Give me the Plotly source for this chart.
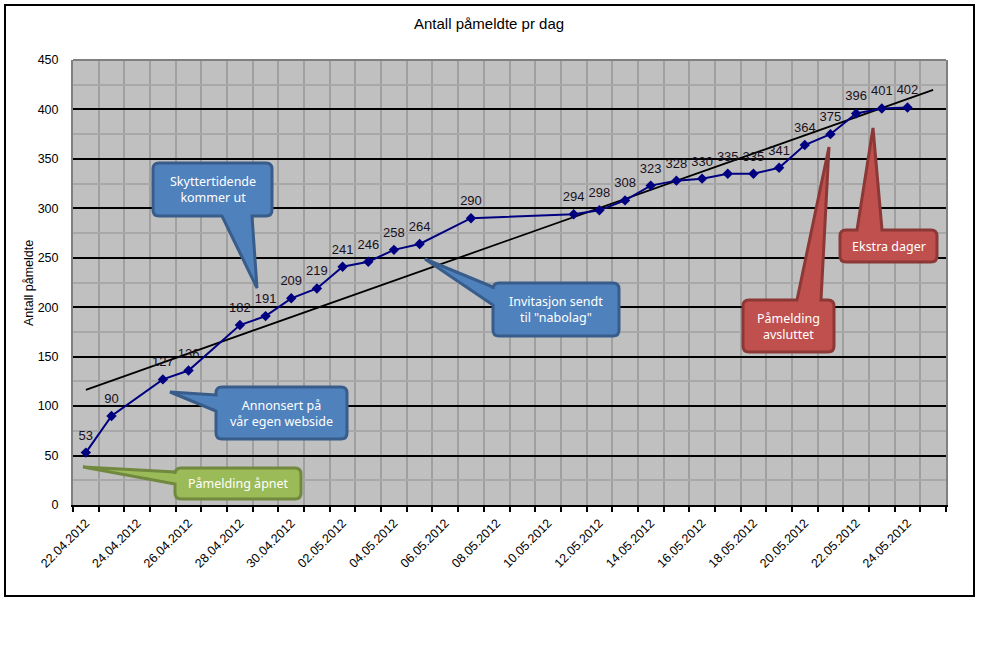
import numpy as np
import pandas as pd
import plotly.graph_objects as go

# ---------------- data ----------------
dates = ["22.04.2012", "23.04.2012", "25.04.2012", "26.04.2012", "28.04.2012",
         "29.04.2012", "30.04.2012", "01.05.2012", "02.05.2012", "03.05.2012",
         "04.05.2012", "05.05.2012", "07.05.2012", "11.05.2012", "12.05.2012",
         "13.05.2012", "14.05.2012", "15.05.2012", "16.05.2012", "17.05.2012",
         "18.05.2012", "19.05.2012", "20.05.2012", "21.05.2012", "22.05.2012",
         "23.05.2012", "24.05.2012"]
values = [53, 90, 127, 136, 182, 191, 209, 219, 241, 246, 258, 264, 290, 294,
          298, 308, 323, 328, 330, 335, 335, 341, 364, 375, 396, 401, 402]
axis_start = "22.04.2012"
axis_end = "25.05.2012"
tick_labels = ["22.04.2012", "24.04.2012", "26.04.2012", "28.04.2012",
               "30.04.2012", "02.05.2012", "04.05.2012", "06.05.2012",
               "08.05.2012", "10.05.2012", "12.05.2012", "14.05.2012",
               "16.05.2012", "18.05.2012", "20.05.2012", "22.05.2012",
               "24.05.2012"]
callouts = [
    ("Skyttertidende<br>kommer ut", "blue"),
    ("Annonsert på<br>vår egen webside", "blue"),
    ("Påmelding åpnet", "green"),
    ("Invitasjon sendt<br>til \"nabolag\"", "blue"),
    ("Påmelding<br>avsluttet", "red"),
    ("Ekstra dager", "red"),
]

# ---------------- derived ----------------
fmt = "%d.%m.%Y"
t0 = pd.to_datetime(axis_start, format=fmt)
day_idx = np.array([(pd.to_datetime(d, format=fmt) - t0).days for d in dates])
last_idx = (pd.to_datetime(axis_end, format=fmt) - t0).days
tick_idx = [(pd.to_datetime(d, format=fmt) - t0).days for d in tick_labels]

slope, intercept = np.polyfit(day_idx, values, 1)
trend_x = np.array([day_idx[0], last_idx])
trend_y = slope * trend_x + intercept

# ---------------- layout geometry ----------------
W, H = 987, 648
ML, MR, MT, MB = 73, 41, 60, 143
PW, PH = W - ML - MR, H - MT - MB
FONT = "Liberation Sans, Arial, sans-serif"


def px(x, y):
    return (x - ML) / PW, (H - MB - y) / PH


def P(x, y):
    a, b = px(x, y)
    return f"{a:.5f},{b:.5f}"


def callout_path(x0, y0, x1, y1, edge, b1, b2, tip, r=6):
    tx, ty = tip
    s = f"M {P(x0 + r, y0)} "
    if edge == "top":
        s += f"L {P(b1, y0)} L {P(tx, ty)} L {P(b2, y0)} "
    s += f"L {P(x1 - r, y0)} Q {P(x1, y0)} {P(x1, y0 + r)} "
    s += f"L {P(x1, y1 - r)} Q {P(x1, y1)} {P(x1 - r, y1)} "
    if edge == "bottom":
        s += f"L {P(b2, y1)} L {P(tx, ty)} L {P(b1, y1)} "
    s += f"L {P(x0 + r, y1)} Q {P(x0, y1)} {P(x0, y1 - r)} "
    if edge == "left":
        s += f"L {P(x0, b2)} L {P(tx, ty)} L {P(x0, b1)} "
    s += f"L {P(x0, y0 + r)} Q {P(x0, y0)} {P(x0 + r, y0)} Z"
    return s


styles = {
    "blue": ("#4F81BD", "#385D8A"),
    "green": ("#9BBB59", "#71893F"),
    "red": ("#C0504D", "#8C3836"),
}
# box (x0, y0, x1, y1), tail edge, tail base, tip  -- pixel layout
geoms = [
    ((153, 163, 272, 216), "bottom", 222, 252, (257, 288)),
    ((216, 387, 347, 439), "left", 395, 411, (170, 392)),
    ((175, 468, 301, 499), "left", 472, 484, (83, 467)),
    ((493, 283, 619, 336), "left", 287, 305, (425, 259)),
    ((743, 300, 834, 352), "top", 797, 821, (829, 147)),
    ((840, 230, 937, 262), "top", 857, 882, (873, 128)),
]

fig = go.Figure()

fig.add_trace(go.Scatter(
    x=trend_x, y=trend_y, mode="lines",
    line=dict(color="black", width=1.8), hoverinfo="skip", showlegend=False))

fig.add_trace(go.Scatter(
    x=day_idx, y=values, mode="lines+markers",
    line=dict(color="#000080", width=2),
    marker=dict(symbol="diamond", size=8, color="#000080"),
    showlegend=False))

# data labels (offset above the points)
fig.add_trace(go.Scatter(
    x=day_idx, y=values, mode="markers+text",
    marker=dict(size=14, opacity=0),
    text=[str(v) for v in values], textposition="top center",
    textfont=dict(family=FONT, size=13, color="#1a1020"),
    hoverinfo="skip", showlegend=False))

shapes = []
annotations = []
for (text, col), (box, edge, b1, b2, tip) in zip(callouts, geoms):
    fill, border = styles[col]
    x0, y0, x1, y1 = box
    shapes.append(dict(type="path", xref="paper", yref="paper",
                       path=callout_path(x0, y0, x1, y1, edge, b1, b2, tip),
                       fillcolor=fill, line=dict(color=border, width=3),
                       layer="above"))
    cx, cy = px((x0 + x1) / 2, (y0 + y1) / 2)
    annotations.append(dict(xref="paper", yref="paper", x=cx, y=cy,
                            text=text, showarrow=False,
                            font=dict(family="Noto Sans, sans-serif", size=12.5,
                                      color="white"),
                            xanchor="center", yanchor="middle", align="center"))

# top border of plot area
shapes.append(dict(type="line", xref="paper", yref="paper", x0=0, x1=1, y0=1, y1=1,
                   line=dict(color="#808080", width=2), layer="above"))
# outer chart border
bx0, by0 = px(5, 5)
bx1, by1 = px(974, 596)
shapes.append(dict(type="rect", xref="paper", yref="paper",
                   x0=bx0, y0=by1, x1=bx1, y1=by0,
                   line=dict(color="black", width=2), fillcolor="rgba(0,0,0,0)",
                   layer="above"))

tx_, ty_ = px(489, 24)
annotations.append(dict(xref="paper", yref="paper", x=tx_, y=ty_,
                        text="Antall påmeldte pr dag", showarrow=False,
                        font=dict(family=FONT, size=15, color="black"),
                        xanchor="center", yanchor="middle"))
ax_, ay_ = px(29, 283)
annotations.append(dict(xref="paper", yref="paper", x=ax_, y=ay_,
                        text="Antall påmeldte", showarrow=False, textangle=-90,
                        font=dict(family=FONT, size=12.5, color="black"),
                        xanchor="center", yanchor="middle"))

fig.update_layout(
    width=W, height=H,
    margin=dict(l=ML, r=MR, t=MT, b=MB, pad=0),
    paper_bgcolor="white", plot_bgcolor="#C0C0C0",
    font=dict(family=FONT, size=12, color="black"),
    shapes=shapes, annotations=annotations,
    xaxis=dict(
        range=[-0.5, last_idx + 0.5], tickmode="array",
        tickvals=tick_idx, ticktext=tick_labels, tickangle=-45,
        ticks="outside", ticklen=4, tickcolor="rgba(0,0,0,0)",
        tickfont=dict(family=FONT, size=12.5, color="black"),
        showgrid=False, zeroline=False,
        showline=True, linecolor="black", linewidth=2,
        minor=dict(tickvals=[i - 0.5 for i in range(last_idx + 2)],
                   ticks="outside", ticklen=5, tickwidth=1.5, tickcolor="black",
                   showgrid=True, gridcolor="#A0A0A0", gridwidth=2),
        fixedrange=True,
    ),
    yaxis=dict(
        range=[0, 450], tickmode="linear", tick0=0, dtick=50,
        ticks="", ticklabelstandoff=10,
        tickfont=dict(family=FONT, size=12.5, color="black"),
        showgrid=True, gridcolor="black", gridwidth=2, zeroline=False,
        showline=True, linecolor="#808080", linewidth=2, mirror=True,
        minor=dict(tick0=0, dtick=25, showgrid=True, gridcolor="#A8A8A8",
                   gridwidth=2),
        fixedrange=True,
    ),
)

fig.write_html("out.html")
